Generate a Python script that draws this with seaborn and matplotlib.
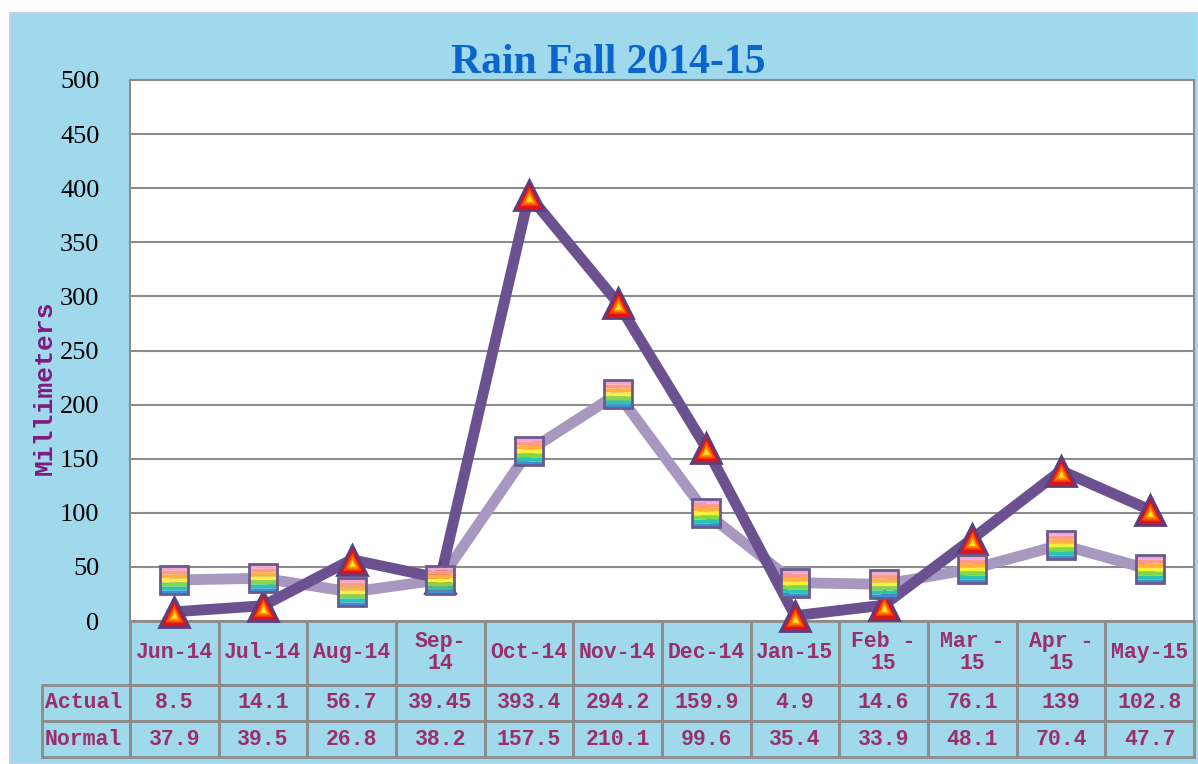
import numpy as np
import pandas as pd
import matplotlib
matplotlib.use("Agg")
import matplotlib.pyplot as plt
import seaborn as sns
from matplotlib.path import Path
from matplotlib.patches import Rectangle
from matplotlib.table import Table

# data
months = ["Jun-14", "Jul-14", "Aug-14", "Sep-\n14", "Oct-14", "Nov-14",
          "Dec-14", "Jan-15", "Feb -\n15", "Mar -\n15", "Apr -\n15", "May-15"]
actual = [8.5, 14.1, 56.7, 39.45, 393.4, 294.2, 159.9, 4.9, 14.6, 76.1, 139, 102.8]
normal = [37.9, 39.5, 26.8, 38.2, 157.5, 210.1, 99.6, 35.4, 33.9, 48.1, 70.4, 47.7]
row_names = ["Actual", "Normal"]
y_ticks = list(range(0, 501, 50))

BG = "#a0d9eb"
DARK = "#6b5190"
LIGHT = "#a898c0"
GRID = "#8c8c8c"
TXT = "#9b2f6a"

W, H = 1198, 764
L, R, T, B = 130, 1194, 80, 621   # plot area in pixels
TBL_LEFT, TBL_BOTTOM = 42, 757

sns.set_style("white")
plt.rcParams["font.family"] = ["Liberation Serif", "DejaVu Serif"]

fig = plt.figure(figsize=(W / 100, H / 100), dpi=100, facecolor="white")
fig.add_artist(Rectangle((10 / W, 0), (W - 10) / W, (H - 13) / H,
                         transform=fig.transFigure, facecolor=BG,
                         edgecolor="#c4cff0", linewidth=1.5, zorder=0))

ax = fig.add_axes([L / W, 1 - B / H, (R - L) / W, (B - T) / H])
ax.set_facecolor("white")

df = pd.DataFrame({"idx": np.arange(len(months)), "Actual": actual, "Normal": normal})
sns.lineplot(data=df, x="idx", y="Normal", color=LIGHT, linewidth=7.8, ax=ax,
             zorder=3, clip_on=False)
sns.lineplot(data=df, x="idx", y="Actual", color=DARK, linewidth=7.8, ax=ax,
             zorder=4, clip_on=False)


def anchored(verts):
    # two lone points keep the unit extent, so scaled layers stay concentric
    pts = [(-1, -1), (1, 1)] + list(verts) + [verts[0]]
    codes = [Path.MOVETO, Path.MOVETO, Path.MOVETO] + \
        [Path.LINETO] * (len(verts) - 1) + [Path.CLOSEPOLY]
    return Path(pts, codes)


tri = np.array([(0, 1), (-1, -1), (1, -1)], dtype=float)
cen = np.array([0, -1 / 3])


def tri_layer(k):
    return anchored([tuple(cen + k * (v - cen)) for v in tri])


def band(y0, y1):
    return anchored([(-1, y0), (1, y0), (1, y1), (-1, y1)])


MS = 21
# triangles: red -> orange -> yellow towards the centre
ax.plot(df["idx"], df["Actual"], ls="none", marker="^", ms=MS, mfc="#d8141c",
        mec="#5b3f80", mew=2, zorder=5, clip_on=False)
for k, c in [(0.72, "#ff4a00"), (0.48, "#ff9000"), (0.26, "#ffe030")]:
    ax.plot(df["idx"], df["Actual"], ls="none", marker=tri_layer(k), ms=MS - 3,
            mfc=c, mec="none", zorder=6, clip_on=False)

# squares: rainbow bands
sq_cols = ["#eea6d6", "#ff9a8a", "#ffb040", "#f6f03a", "#7ed84a", "#2cc4b0", "#3a90d8"]
edges = np.linspace(1, -1, len(sq_cols) + 1)
for i, c in enumerate(sq_cols):
    ax.plot(df["idx"], df["Normal"], ls="none", marker=band(edges[i + 1], edges[i]),
            ms=MS - 1, mfc=c, mec="none", zorder=7, clip_on=False)
ax.plot(df["idx"], df["Normal"], ls="none", marker="s", ms=MS - 1, mfc="none",
        mec="#6a5a8c", mew=2, zorder=8, clip_on=False)

ax.set_xlim(-0.5, len(months) - 0.5)
ax.set_ylim(0, 500)
ax.set_xticks([])
ax.set_yticks(y_ticks)
ax.set_yticklabels([str(v) for v in y_ticks], fontfamily="Liberation Serif")
ax.tick_params(axis="y", length=0, pad=22, labelsize=19, labelcolor="black")
ax.set_xlabel("")
ax.set_ylabel("")
ax.yaxis.grid(True, color=GRID, linewidth=1.5)
ax.set_axisbelow(True)
for name, sp in ax.spines.items():
    sp.set_color(GRID)
    sp.set_linewidth(1.5)
    sp.set_visible(name != "bottom")

# data table under the plot
tbl = Table(ax, bbox=[-(L - TBL_LEFT) / (R - L), -(TBL_BOTTOM - B) / (B - T),
                      (R - TBL_LEFT) / (R - L), (TBL_BOTTOM - B) / (B - T)])
col_w = [L - TBL_LEFT] + [(R - L) / len(months)] * len(months)
heights = [64, 37, 36]
rows = [[""] + months,
        [row_names[0]] + [f"{v:g}" for v in actual],
        [row_names[1]] + [f"{v:g}" for v in normal]]
for r, row in enumerate(rows):
    for c, txt in enumerate(row):
        cell = tbl.add_cell(r, c, width=col_w[c], height=heights[r], text=txt,
                            loc="left" if c == 0 else "center",
                            facecolor="none",
                            edgecolor="none" if (r == 0 and c == 0) else GRID)
        cell.set_linewidth(2)
        cell.PAD = 0.035
tbl.auto_set_font_size(False)
tbl.set_fontsize(15.5)
for cell in tbl.get_celld().values():
    cell.set_text_props(family="Liberation Mono", weight="bold", color=TXT,
                        linespacing=1.05)
ax.add_table(tbl)

fig.text(608.5 / W, 1 - 73 / H, "Rain Fall 2014-15", ha="center", va="baseline",
         fontsize=30, weight="bold", color="#0a66cc", family="Liberation Serif")
fig.text(45 / W, 1 - 388 / H, "Millimeters", rotation=90, ha="center", va="center",
         fontsize=19, weight="bold", color="#7f1a80", family="Liberation Mono")

fig.savefig("out.png", dpi=100, facecolor=fig.get_facecolor())
